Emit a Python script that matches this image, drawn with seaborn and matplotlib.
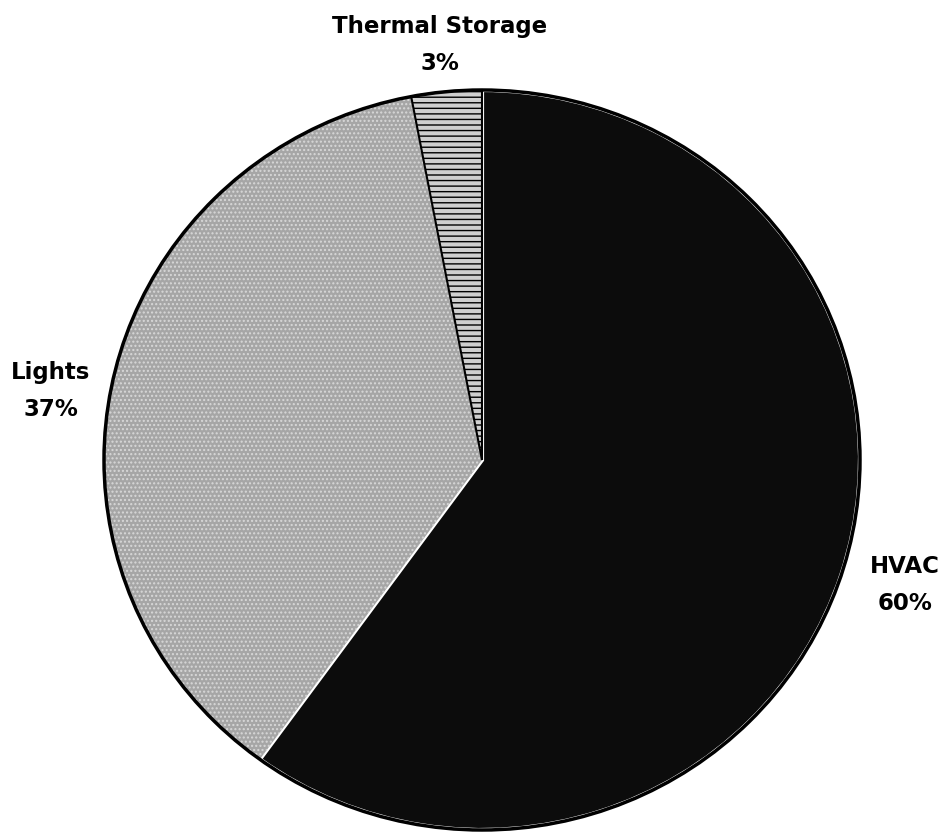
import matplotlib
matplotlib.use("Agg")
import matplotlib.pyplot as plt
import seaborn as sns
from matplotlib.patches import Ellipse

sns.set_theme(style="white")
plt.rcParams['font.family'] = ['DejaVu Sans']

categories = ["HVAC", "Lights", "Thermal Storage"]
shares = [60, 37, 3]
pct_labels = ["60%", "37%", "3%"]
colors = ["#0c0c0c", "#a6a6a6", "#cfcfcf"]

W, H = 944, 835
fig = plt.figure(figsize=(W / 100, H / 100), dpi=100)
ax = fig.add_axes([0, 0, 1, 1])

cx, cy, rx, ry = 482, 460, 378, 370

wedges, _ = ax.pie(
    shares, colors=colors, startangle=90, counterclock=False, radius=1,
    wedgeprops=dict(edgecolor="white", linewidth=3),
)
wedges[1].set_hatch("....")
wedges[1].set_edgecolor("#d8d8d8")
wedges[1].set_linewidth(0)
wedges[2].set_hatch("---")
wedges[2].set_edgecolor("black")
wedges[2].set_linewidth(1.5)

# outer outline
ax.add_patch(Ellipse((0, 0), 2, 2, fill=False, edgecolor="black", linewidth=2.5))

ax.set_aspect("auto")
ax.set_xlim(-cx / rx, (W - cx) / rx)
ax.set_ylim(-(H - cy) / ry, cy / ry)
ax.axis("off")

label_pos = {
    "Thermal Storage": (440, 45),
    "Lights": (51, 391),
    "HVAC": (905, 585),
}
for cat, pct in zip(categories, pct_labels):
    px, py = label_pos[cat]
    fig.text(px / W, 1 - py / H, f"{cat}\n{pct}", ha="center", va="center",
             multialignment="center", fontsize=16.5, fontweight="bold",
             linespacing=1.75, color="black")

fig.savefig("out.png", dpi=100, facecolor="white")
